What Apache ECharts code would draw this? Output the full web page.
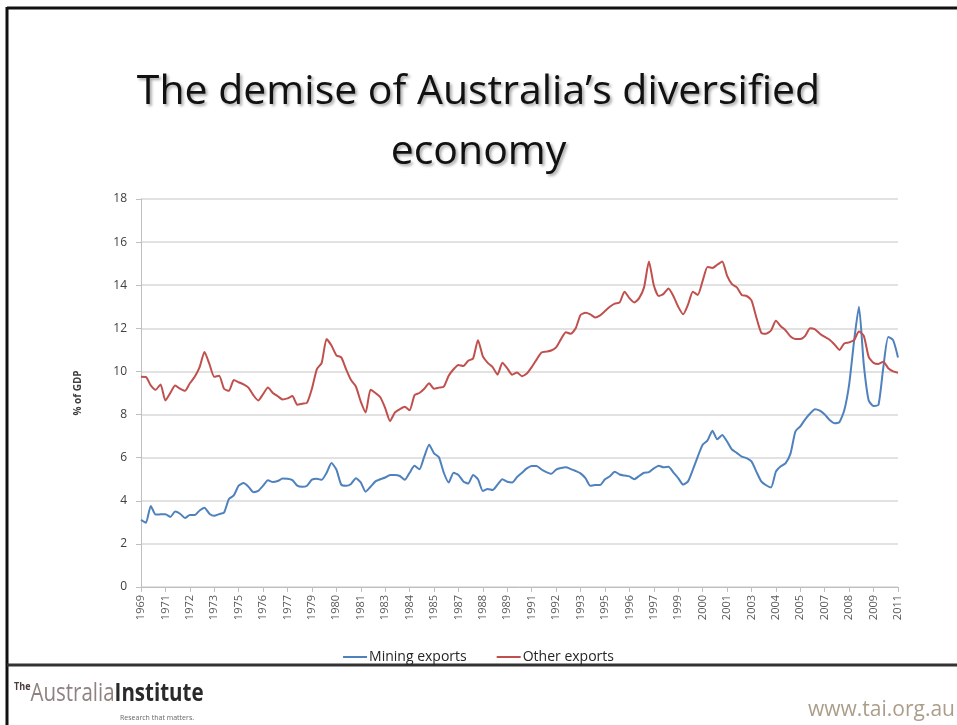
<!DOCTYPE html>
<html>
<head>
<meta charset="utf-8">
<title>The demise of Australia's diversified economy</title>
<script src="https://cdn.jsdelivr.net/npm/echarts@6/dist/echarts.min.js"></script>
<style>
  html, body { margin: 0; padding: 0; background: #ffffff; }
  #chart { width: 957px; height: 725px; }
</style>
</head>
<body>
<div id="chart"></div>
<script>
// Year labels shown along the horizontal axis (one every five observations)
const tickLabels = [
  '1969','1971','1972','1973','1975','1976','1977','1979','1980','1981','1983',
  '1984','1985','1987','1988','1989','1991','1992','1993','1995','1996','1997',
  '1999','2000','2001','2003','2004','2005','2007','2008','2009','2011'
];

// Mining exports, % of GDP
const miningExports = [
  3.11, 2.98, 3.76, 3.36, 3.37, 3.38, 3.25, 3.50, 3.40, 3.20,
  3.34, 3.34, 3.55, 3.68, 3.40, 3.30, 3.38, 3.45, 4.08, 4.25,
  4.70, 4.82, 4.65, 4.40, 4.46, 4.70, 4.95, 4.87, 4.92, 5.03,
  5.02, 4.96, 4.70, 4.65, 4.70, 4.98, 5.02, 4.97, 5.30, 5.75,
  5.45, 4.75, 4.70, 4.78, 5.05, 4.85, 4.42, 4.65, 4.90, 5.00,
  5.08, 5.20, 5.20, 5.15, 4.97, 5.30, 5.62, 5.46, 6.05, 6.60,
  6.20, 6.02, 5.30, 4.85, 5.30, 5.20, 4.90, 4.80, 5.20, 5.00,
  4.45, 4.55, 4.50, 4.75, 5.00, 4.88, 4.85, 5.10, 5.30, 5.50,
  5.61, 5.61, 5.45, 5.33, 5.25, 5.45, 5.52, 5.55, 5.47, 5.38,
  5.27, 5.05, 4.70, 4.73, 4.73, 5.00, 5.14, 5.35, 5.22, 5.17,
  5.13, 5.00, 5.15, 5.30, 5.33, 5.50, 5.63, 5.55, 5.58, 5.32,
  5.05, 4.75, 4.90, 5.45, 6.05, 6.60, 6.80, 7.25, 6.85, 7.05,
  6.75, 6.38, 6.22, 6.05, 5.98, 5.83, 5.35, 4.90, 4.72, 4.62,
  5.35, 5.60, 5.75, 6.20, 7.22, 7.45, 7.78, 8.05, 8.25, 8.18,
  8.00, 7.75, 7.60, 7.65, 8.20, 9.40, 11.40, 13.00, 10.30, 8.65,
  8.40, 8.45, 10.20, 11.60, 11.45, 10.65
];

// Other exports, % of GDP
const otherExports = [
  9.75, 9.74, 9.35, 9.15, 9.40, 8.65, 9.00, 9.35, 9.20, 9.10,
  9.45, 9.75, 10.20, 10.90, 10.35, 9.75, 9.80, 9.20, 9.10, 9.60,
  9.50, 9.40, 9.25, 8.90, 8.65, 8.95, 9.25, 9.00, 8.85, 8.70,
  8.75, 8.86, 8.45, 8.50, 8.55, 9.20, 10.10, 10.40, 11.50, 11.20,
  10.75, 10.65, 10.10, 9.60, 9.30, 8.60, 8.10, 9.15, 9.00, 8.80,
  8.30, 7.70, 8.10, 8.25, 8.36, 8.20, 8.90, 9.00, 9.20, 9.45,
  9.20, 9.25, 9.30, 9.80, 10.10, 10.30, 10.25, 10.50, 10.60, 11.45,
  10.70, 10.40, 10.20, 9.85, 10.40, 10.14, 9.85, 9.95, 9.78, 9.90,
  10.20, 10.55, 10.88, 10.92, 10.97, 11.12, 11.50, 11.82, 11.75, 12.00,
  12.62, 12.72, 12.65, 12.50, 12.60, 12.80, 13.00, 13.15, 13.20, 13.70,
  13.40, 13.20, 13.40, 13.90, 15.10, 14.00, 13.50, 13.60, 13.85, 13.50,
  13.00, 12.65, 13.10, 13.70, 13.55, 14.20, 14.85, 14.80, 14.95, 15.10,
  14.45, 14.05, 13.90, 13.55, 13.50, 13.30, 12.50, 11.80, 11.75, 11.90,
  12.35, 12.10, 11.90, 11.62, 11.50, 11.50, 11.65, 12.00, 11.95, 11.75,
  11.60, 11.47, 11.25, 11.00, 11.30, 11.35, 11.45, 11.85, 11.65, 10.68,
  10.40, 10.35, 10.45, 10.15, 10.00, 9.94
];

const seriesNames = ['Mining exports', 'Other exports'];
const seriesColors = ['#4f81bd', '#c0504d'];

// One category per observation; every fifth one carries a year label
const STEP = 5;
const categories = miningExports.map((_, i) =>
  tickLabels[Math.floor(i / STEP)] + '-' + (i % STEP));

const chart = echarts.init(document.getElementById('chart'), null, { renderer: 'canvas' });

const baseFont = 'Open Sans, Liberation Sans, sans-serif';
const logoFont = 'Open Sans, Liberation Sans, sans-serif';

chart.setOption({
  animation: false,
  backgroundColor: '#ffffff',
  title: {
    text: "The demise of Australia\u2019s diversified\neconomy",
    left: 'center',
    top: 57,
    textStyle: {
      fontFamily: baseFont,
      fontSize: 41,
      fontWeight: 'normal',
      color: '#111111',
      lineHeight: 60,
      textShadowColor: 'rgba(0,0,0,0.35)',
      textShadowBlur: 3,
      textShadowOffsetX: 2,
      textShadowOffsetY: 2
    }
  },
  grid: { left: 141, right: 59, top: 199, bottom: 138, containLabel: false },
  legend: {
    top: 648,
    left: 'center',
    padding: [2, 5, 2, 5],
    icon: 'rect',
    itemWidth: 24,
    itemHeight: 2,
    itemGap: 30,
    textStyle: { fontFamily: baseFont, fontSize: 14, color: '#262626', padding: [0, 0, 0, -3] },
    data: seriesNames
  },
  xAxis: {
    type: 'category',
    data: categories,
    boundaryGap: false,
    axisLine: { lineStyle: { color: '#bfbfbf', width: 1 } },
    axisTick: { interval: STEP - 1, length: 5, lineStyle: { color: '#bfbfbf' } },
    axisLabel: {
      interval: STEP - 1,
      rotate: 90,
      margin: 8,
      fontFamily: baseFont,
      fontSize: 11,
      color: '#595959',
      formatter: (v) => v.split('-')[0]
    },
    splitLine: { show: false }
  },
  yAxis: {
    type: 'value',
    min: 0,
    max: 18,
    interval: 2,
    name: '% of GDP',
    nameLocation: 'middle',
    nameGap: 58,
    nameRotate: 90,
    nameTextStyle: { fontFamily: baseFont, fontSize: 10, fontWeight: 'bold', color: '#404040' },
    axisLine: { show: true, lineStyle: { color: '#bfbfbf', width: 1 } },
    axisTick: { show: true, length: 5, lineStyle: { color: '#bfbfbf' } },
    axisLabel: { margin: 14, fontFamily: baseFont, fontSize: 12, color: '#404040' },
    splitLine: { lineStyle: { color: '#d9d9d9', width: 1.5 } }
  },
  series: [
    {
      name: seriesNames[0],
      type: 'line',
      data: miningExports,
      showSymbol: false,
      smooth: 0.2,
      lineStyle: { color: seriesColors[0], width: 2 },
      itemStyle: { color: seriesColors[0] }
    },
    {
      name: seriesNames[1],
      type: 'line',
      data: otherExports,
      showSymbol: false,
      smooth: 0.2,
      lineStyle: { color: seriesColors[1], width: 2 },
      itemStyle: { color: seriesColors[1] }
    }
  ],
  graphic: [
    // slide frame
    { type: 'line', shape: { x1: 7, y1: 8, x2: 957, y2: 8 }, style: { stroke: '#111111', lineWidth: 3 } },
    { type: 'line', shape: { x1: 7, y1: 7, x2: 7, y2: 725 }, style: { stroke: '#111111', lineWidth: 3 } },
    // footer rule
    { type: 'line', shape: { x1: 7, y1: 665, x2: 957, y2: 665 }, style: { stroke: '#333333', lineWidth: 3 } },
    // footer logo
    {
      type: 'text', x: 14, y: 681, scaleX: 0.82,
      style: {
        text: '{a|The}{b|Australia}{c|Institute}',
        rich: {
          a: { fontFamily: logoFont, fontSize: 11, fontWeight: 'bold', fill: '#4a3c3c', verticalAlign: 'top', padding: [0, 0, 12, 0] },
          b: { fontFamily: logoFont, fontSize: 25, fill: '#8f8280' },
          c: { fontFamily: logoFont, fontSize: 25, fontWeight: 'bold', fill: '#2a2a2a' }
        }
      }
    },
    {
      type: 'text', x: 120, y: 714,
      style: { text: 'Research that matters.', fontFamily: baseFont, fontSize: 7, fill: '#666666' }
    },
    {
      type: 'text', x: 808, y: 700,
      style: { text: 'www.tai.org.au', fontFamily: baseFont, fontSize: 21, fill: '#ab9d8a' }
    }
  ]
});
</script>
</body>
</html>
